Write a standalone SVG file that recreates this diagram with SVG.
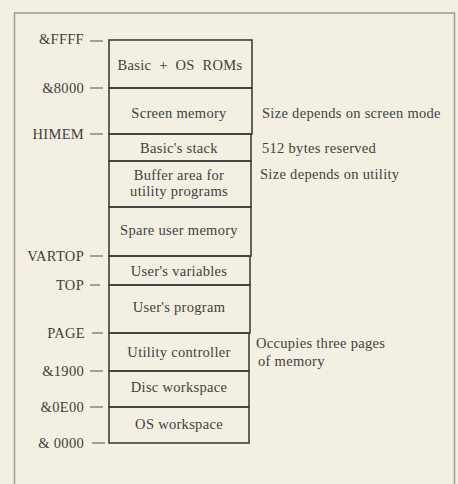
<svg xmlns="http://www.w3.org/2000/svg" width="458" height="484" viewBox="0 0 458 484">
<style>
.bg{fill:#f3efe3}
.frame{fill:none;stroke:#9b9a93;stroke-width:1.5}
.cell{fill:none;stroke:#3e3e3c;stroke-width:1.6}
.tick{stroke:#6a6a66;stroke-width:1.2}
text{font-family:"Liberation Serif","Times New Roman",serif;font-size:14.5px;letter-spacing:0.3px;fill:#3f3f3c}
.c{text-anchor:middle}
.r{text-anchor:end}
</style>
<rect class="bg" x="0" y="0" width="458" height="484"/>
<path class="frame" d="M14.5,490 V13 H454.5 V490"/>
<g id="connectors">
<line class="tick" x1="90" y1="41" x2="103" y2="41"/>
<line class="tick" x1="90" y1="88" x2="103" y2="88"/>
<line class="tick" x1="90" y1="134" x2="103" y2="134"/>
<line class="tick" x1="90" y1="256" x2="103" y2="256"/>
<line class="tick" x1="90" y1="285" x2="100" y2="285"/>
<line class="tick" x1="92" y1="333" x2="103" y2="333"/>
<line class="tick" x1="90" y1="371" x2="103" y2="371"/>
<line class="tick" x1="90" y1="407" x2="103" y2="407"/>
<line class="tick" x1="92" y1="443" x2="105" y2="443"/>
</g>
<g id="labels">
<text class="r" x="84" y="44">&amp;FFFF</text>
<text class="r" x="84" y="93">&amp;8000</text>
<text class="r" x="84" y="139">HIMEM</text>
<text class="r" x="84" y="261">VARTOP</text>
<text class="r" x="84" y="290">TOP</text>
<text class="r" x="85" y="338">PAGE</text>
<text class="r" x="84" y="376">&amp;1900</text>
<text class="r" x="84" y="412">&amp;0E00</text>
<text class="r" x="84" y="448">&amp; 0000</text>
</g>
<g id="roms"><rect class="cell" x="109" y="40" width="143" height="48"/><text class="c" x="180" y="70" xml:space="preserve">Basic  +  OS  ROMs</text></g>
<g id="screen"><rect class="cell" x="109" y="88" width="143" height="46"/><text class="c" x="179" y="118">Screen memory</text><text x="262" y="118">Size depends on screen mode</text></g>
<g id="stack"><rect class="cell" x="109" y="134" width="142" height="27"/><text class="c" x="179" y="153">Basic's stack</text><text x="262" y="153">512 bytes reserved</text></g>
<g id="buffer"><rect class="cell" x="109" y="161" width="142" height="46"/><text class="c" x="179" y="180">Buffer area for</text><text class="c" x="179" y="196">utility programs</text><text x="260" y="179">Size depends on utility</text></g>
<g id="spare"><rect class="cell" x="109" y="207" width="142" height="49"/><text class="c" x="179" y="235">Spare user memory</text></g>
<g id="vars"><rect class="cell" x="109" y="256" width="141" height="29"/><text class="c" x="179" y="276">User's variables</text></g>
<g id="program"><rect class="cell" x="109" y="285" width="141" height="48"/><text class="c" x="179" y="312">User's program</text></g>
<g id="utility"><rect class="cell" x="109" y="333" width="140" height="38"/><text class="c" x="179" y="357">Utility controller</text><text x="256" y="348">Occupies three pages</text><text x="258" y="366">of memory</text></g>
<g id="disc"><rect class="cell" x="109" y="371" width="140" height="36"/><text class="c" x="179" y="392">Disc workspace</text></g>
<g id="os"><rect class="cell" x="109" y="407" width="140" height="36"/><text class="c" x="179" y="429">OS workspace</text></g>
</svg>
